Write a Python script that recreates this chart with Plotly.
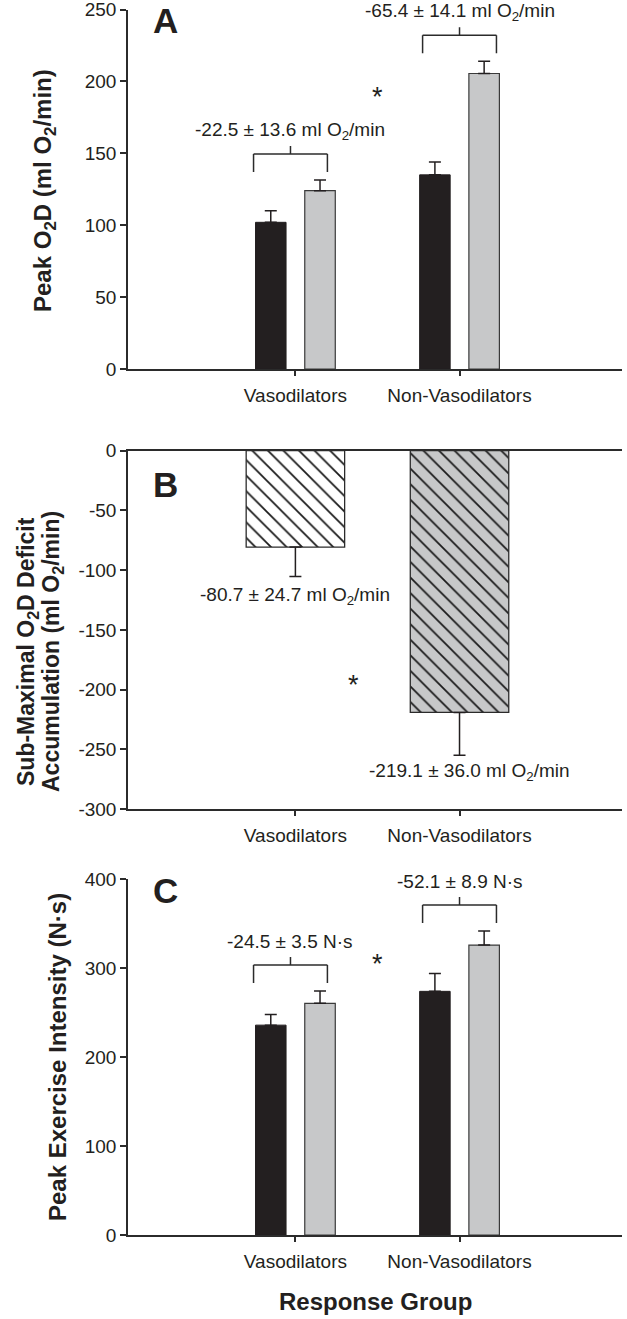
import plotly.graph_objects as go

# ---------------- data ----------------
categories = ["Vasodilators", "Non-Vasodilators"]

# Panel A: Peak O2D (ml O2/min)
a_black = [102, 135]
a_black_err = [8, 9]
a_gray = [124, 205.5]
a_gray_err = [7.5, 8.5]
a_diff_labels = ["-22.5 ± 13.6 ml O<sub>2</sub>/min", "-65.4 ± 14.1 ml O<sub>2</sub>/min"]

# Panel B: Sub-maximal O2D deficit accumulation
b_vals = [-80.7, -219.1]
b_err = [24.7, 36.0]
b_labels = ["-80.7 ± 24.7 ml O<sub>2</sub>/min", "-219.1 ± 36.0 ml O<sub>2</sub>/min"]

# Panel C: Peak exercise intensity (N·s)
c_black = [236, 274]
c_black_err = [12, 20]
c_gray = [260.5, 326]
c_gray_err = [14, 16]
c_diff_labels = ["-24.5 ± 3.5 N·s", "-52.1 ± 8.9 N·s"]

a_ticks = [0, 50, 100, 150, 200, 250]
b_ticks = [-300, -250, -200, -150, -100, -50, 0]
c_ticks = [0, 100, 200, 300, 400]

# ---------------- style / layout ----------------
W, H = 627, 1319
XL, XR = 128, 622
FONT = "Liberation Sans, Arial, Helvetica, sans-serif"
INK = "#231f20"
AX = "#2b2b2b"
GRAY = "#c7c8c9"
XR_RANGE = [-1.02, 1.99]
b_fill = ["white", GRAY]

panels = {
    "A": dict(top=9.5, bottom=369.0, rng=[0, 250]),
    "B": dict(top=450.7, bottom=809.0, rng=[-300, 0]),
    "C": dict(top=879.3, bottom=1235.0, rng=[0, 400]),
}


def ydom(p):
    return [1 - p["bottom"] / H, 1 - p["top"] / H]


def pxu(p):
    return (p["bottom"] - p["top"]) / (p["rng"][1] - p["rng"][0])


xs = list(range(len(categories)))

fig = go.Figure()


def err(vals, up=True):
    if up:
        return dict(type="data", symmetric=False, array=vals, arrayminus=[0] * len(vals),
                    color=INK, thickness=1.5, width=6)
    return dict(type="data", symmetric=False, array=[0] * len(vals), arrayminus=vals,
                color=INK, thickness=1.5, width=6)


# Panel A bars
fig.add_trace(go.Bar(x=xs, y=a_black, error_y=err(a_black_err), marker=dict(color=INK, line=dict(color=INK, width=1)),
                     xaxis="x", yaxis="y"))
fig.add_trace(go.Bar(x=xs, y=a_gray, error_y=err(a_gray_err), marker=dict(color=GRAY, line=dict(color="#3a3a3a", width=1.2)),
                     xaxis="x", yaxis="y"))
# Panel B bars (one trace per group, hatched)
for i in xs:
    fig.add_trace(go.Bar(x=[xs[i]], y=[b_vals[i]], width=0.6, offset=-0.3, error_y=err([b_err[i]], up=False),
                         marker=dict(color=b_fill[i], line=dict(color="#2b2b2b", width=1.3),
                                     pattern=dict(shape="\\", fgcolor="#1a1a1a", bgcolor=b_fill[i],
                                                  size=11, solidity=0.16, fillmode="replace")),
                         xaxis="x2", yaxis="y2"))
# Panel C bars
fig.add_trace(go.Bar(x=xs, y=c_black, error_y=err(c_black_err), marker=dict(color=INK, line=dict(color=INK, width=1)),
                     xaxis="x3", yaxis="y3"))
fig.add_trace(go.Bar(x=xs, y=c_gray, error_y=err(c_gray_err), marker=dict(color=GRAY, line=dict(color="#3a3a3a", width=1.2)),
                     xaxis="x3", yaxis="y3"))

shapes = []
annotations = []
bracket_shift = [-0.03, 0.0]
BR_HW = 0.225


def brackets(p, tops, labels, xref, yref):
    s = pxu(p)
    for i, (t, lab) in enumerate(zip(tops, labels)):
        cx = xs[i] + bracket_shift[i]
        yb = t + 26 / s
        yl = yb - 18 / s
        yt = yb + 8 / s
        line = dict(color=AX, width=1.5)
        shapes.append(dict(type="line", xref=xref, yref=yref, x0=cx - BR_HW, x1=cx + BR_HW, y0=yb, y1=yb, line=line))
        shapes.append(dict(type="line", xref=xref, yref=yref, x0=cx - BR_HW, x1=cx - BR_HW, y0=yl, y1=yb, line=line))
        shapes.append(dict(type="line", xref=xref, yref=yref, x0=cx + BR_HW, x1=cx + BR_HW, y0=yl, y1=yb, line=line))
        shapes.append(dict(type="line", xref=xref, yref=yref, x0=cx, x1=cx, y0=yb, y1=yt, line=line))
        annotations.append(dict(x=cx, y=yb + 23 / s, xref=xref, yref=yref, text=lab, showarrow=False,
                                xanchor="center", yanchor="middle", font=dict(family=FONT, size=19, color=INK)))


a_tops = [max(b + e, g + f) for b, e, g, f in zip(a_black, a_black_err, a_gray, a_gray_err)]
c_tops = [max(b + e, g + f) for b, e, g, f in zip(c_black, c_black_err, c_gray, c_gray_err)]
brackets(panels["A"], a_tops, a_diff_labels, "x", "y")
brackets(panels["C"], c_tops, c_diff_labels, "x3", "y3")

# Panel B value labels below error bars
b_label_xshift = [0, 10]
sB = pxu(panels["B"])
b_label_gap = [19, 17]
for i, (v, e, lab) in enumerate(zip(b_vals, b_err, b_labels)):
    annotations.append(dict(x=xs[i], y=v - e - b_label_gap[i] / sB, xref="x2", yref="y2", text=lab,
                            showarrow=False, xshift=b_label_xshift[i], xanchor="center", yanchor="middle",
                            font=dict(family=FONT, size=19, color=INK)))

# asterisks
for xref, yref, x, y in [("x", "y", 0.5, 193.7), ("x2", "y2", 0.354, -190.7), ("x3", "y3", 0.5, 313)]:
    annotations.append(dict(x=x, y=y, xref=xref, yref=yref, text="*", showarrow=False, yshift=-7,
                            font=dict(family=FONT, size=27, color=INK)))

# panel letters
for letter, yc in [("A", 21.0), ("B", 484), ("C", 890)]:
    annotations.append(dict(x=165 / W, y=1 - yc / H, xref="paper", yref="paper", text=letter, showarrow=False,
                            xanchor="center", yanchor="middle",
                            font=dict(family=FONT, size=35, color=INK, weight="bold")))

# axis titles
annotations.append(dict(x=44 / W, y=1 - 191 / H, xref="paper", yref="paper", textangle=-90, showarrow=False,
                        text="Peak O<sub>2</sub>D (ml O<sub>2</sub>/min)", xanchor="center", yanchor="middle",
                        font=dict(family=FONT, size=24, color=INK, weight="bold")))
for txt, xc in [("Sub-Maximal O<sub>2</sub>D Deficit", 27), ("Accumulation (ml O<sub>2</sub>/min)", 52)]:
    annotations.append(dict(x=xc / W, y=1 - 652 / H, xref="paper", yref="paper", textangle=-90, showarrow=False,
                            text=txt, xanchor="center", yanchor="middle",
                            font=dict(family=FONT, size=23, color=INK, weight="bold")))
annotations.append(dict(x=57 / W, y=1 - 1057 / H, xref="paper", yref="paper", textangle=-90, showarrow=False,
                        text="Peak Exercise Intensity (N·s)", xanchor="center", yanchor="middle",
                        font=dict(family=FONT, size=24, color=INK, weight="bold")))
annotations.append(dict(x=376 / W, y=1 - 1301.7 / H, xref="paper", yref="paper", showarrow=False,
                        text="Response Group", xanchor="center", yanchor="middle",
                        font=dict(family=FONT, size=24, color=INK, weight="bold")))


def xax(mirror=False):
    return dict(domain=[XL / W, XR / W], range=XR_RANGE, tickmode="array", tickvals=xs, ticktext=categories,
                showline=True, linecolor=AX, linewidth=1.5, mirror=mirror, ticks="outside", ticklen=5,
                tickwidth=1.5, tickcolor=AX, showgrid=False, zeroline=False, ticklabelstandoff=3,
                ticklabeloverflow="allow",
                tickfont=dict(family=FONT, size=19, color=INK), automargin=False, fixedrange=True)


def yax(p, ticks, anchor):
    return dict(domain=ydom(p), range=p["rng"], tickmode="array", tickvals=ticks,
                ticktext=[str(t) for t in ticks], anchor=anchor,
                showline=True, linecolor=AX, linewidth=1.5, ticks="outside", ticklen=6, tickwidth=1.5,
                tickcolor=AX, showgrid=False, zeroline=False, ticklabeloverflow="allow",
                tickfont=dict(family=FONT, size=19, color=INK), automargin=False, fixedrange=True)


fig.update_layout(
    width=W, height=H,
    margin=dict(l=0, r=0, t=0, b=0),
    paper_bgcolor="white", plot_bgcolor="white",
    showlegend=False,
    barmode="group", bargap=0.4, bargroupgap=0.38,
    xaxis=dict(xax(), anchor="y"),
    yaxis=yax(panels["A"], a_ticks, "x"),
    xaxis2=dict(xax(mirror=True), anchor="y2"),
    yaxis2=yax(panels["B"], b_ticks, "x2"),
    xaxis3=dict(xax(), anchor="y3"),
    yaxis3=yax(panels["C"], c_ticks, "x3"),
    shapes=shapes,
    annotations=annotations,
)

fig.write_html("out.html", config={"displayModeBar": False},
               post_script="document.body.style.margin='0';document.body.style.overflow='hidden';")
